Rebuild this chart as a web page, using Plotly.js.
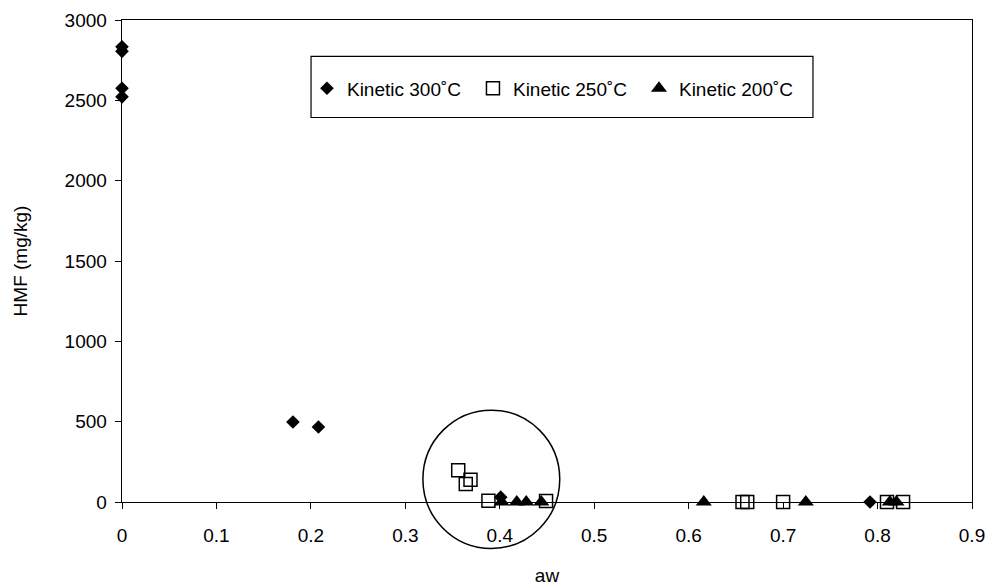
<!DOCTYPE html>
<html><head><meta charset="utf-8">
<script src="https://cdn.plot.ly/plotly-3.0.1.min.js"></script>
<style>body{margin:0;background:#fff}#chart{width:989px;height:586px}</style>
</head><body><div id="chart"></div>
<script>
const seriesNames = ["Kinetic 300˚C", "Kinetic 250˚C", "Kinetic 200˚C"];
const aw300 = [0, 0, 0, 0, 0.181, 0.208, 0.401, 0.792];
const hmf300 = [2833, 2805, 2575, 2522, 498, 467, 30, 0];
const aw250 = [0.356, 0.369, 0.364, 0.388, 0.449, 0.657, 0.662, 0.700, 0.810, 0.827];
const hmf250 = [197, 138, 112, 8, 6, 0, 0, 0, 0, 0];
const aw200 = [0.402, 0.418, 0.428, 0.444, 0.616, 0.724, 0.813, 0.820];
const hmf200 = [0, 0, 0, 0, 0, 0, 0, 0];
const xTicks = [0, 0.1, 0.2, 0.3, 0.4, 0.5, 0.6, 0.7, 0.8, 0.9];
const yTicks = [0, 500, 1000, 1500, 2000, 2500, 3000];

const font = {family: "Liberation Sans, Arial, sans-serif", size: 19, color: "#000"};
const traces = [
  {x: aw300, y: hmf300, name: seriesNames[0], mode: "markers", type: "scatter", cliponaxis: false,
   marker: {symbol: "diamond", size: 10.5, color: "#000"}},
  {x: aw250, y: hmf250, name: seriesNames[1], mode: "markers", type: "scatter", cliponaxis: false,
   marker: {symbol: "square-open", size: 13, color: "#000", line: {width: 1.5, color: "#000"}}},
  {x: aw200, y: hmf200, name: seriesNames[2], mode: "markers", type: "scatter", cliponaxis: false,
   marker: {symbol: "triangle-up", size: 14, color: "#000"}}
];
const layout = {
  width: 989, height: 586,
  margin: {l: 122, r: 17, t: 20, b: 84},
  paper_bgcolor: "#fff", plot_bgcolor: "#fff",
  font: font,
  showlegend: true,
  legend: {orientation: "h", x: 0.2176, y: 0.858, xanchor: "left", yanchor: "middle",
    borderwidth: 0, bgcolor: "rgba(0,0,0,0)",
    font: font,
    entrywidth: 121, entrywidthmode: "pixels", itemwidth: 30,
    tracegroupgap: 0},
  xaxis: {range: [0, 0.9], tickvals: xTicks, ticktext: xTicks.map(String),
    showgrid: false, zeroline: false, showline: true, linecolor: "#000", linewidth: 1.3, mirror: true,
    ticks: "outside", ticklen: 6, tickcolor: "#000", tickfont: font, ticklabelstandoff: 10,
    title: {text: "aw", font: font, standoff: 32}},
  yaxis: {range: [0, 3000], tickvals: yTicks, ticktext: yTicks.map(String),
    showgrid: false, zeroline: false, showline: true, linecolor: "#000", linewidth: 1.3, mirror: true,
    ticks: "outside", ticklen: 6, tickcolor: "#000", tickfont: font, ticklabelstandoff: 4,
    title: {text: "HMF (mg/kg)", font: font, standoff: 32}},
  shapes: [
    {type: "circle", xref: "paper", yref: "paper",
     x0: 0.354, x1: 0.515, y0: -0.0963, y1: 0.1906,
     line: {color: "#000", width: 1.5}},
    {type: "rect", xref: "paper", yref: "paper",
     x0: 0.2224, x1: 0.8129, y0: 0.7977, y1: 0.9245,
     line: {color: "#000", width: 1.2}, fillcolor: "#fff", layer: "below"}
  ]
};
Plotly.newPlot("chart", traces, layout, {displayModeBar: false, staticPlot: true});
</script></body></html>
